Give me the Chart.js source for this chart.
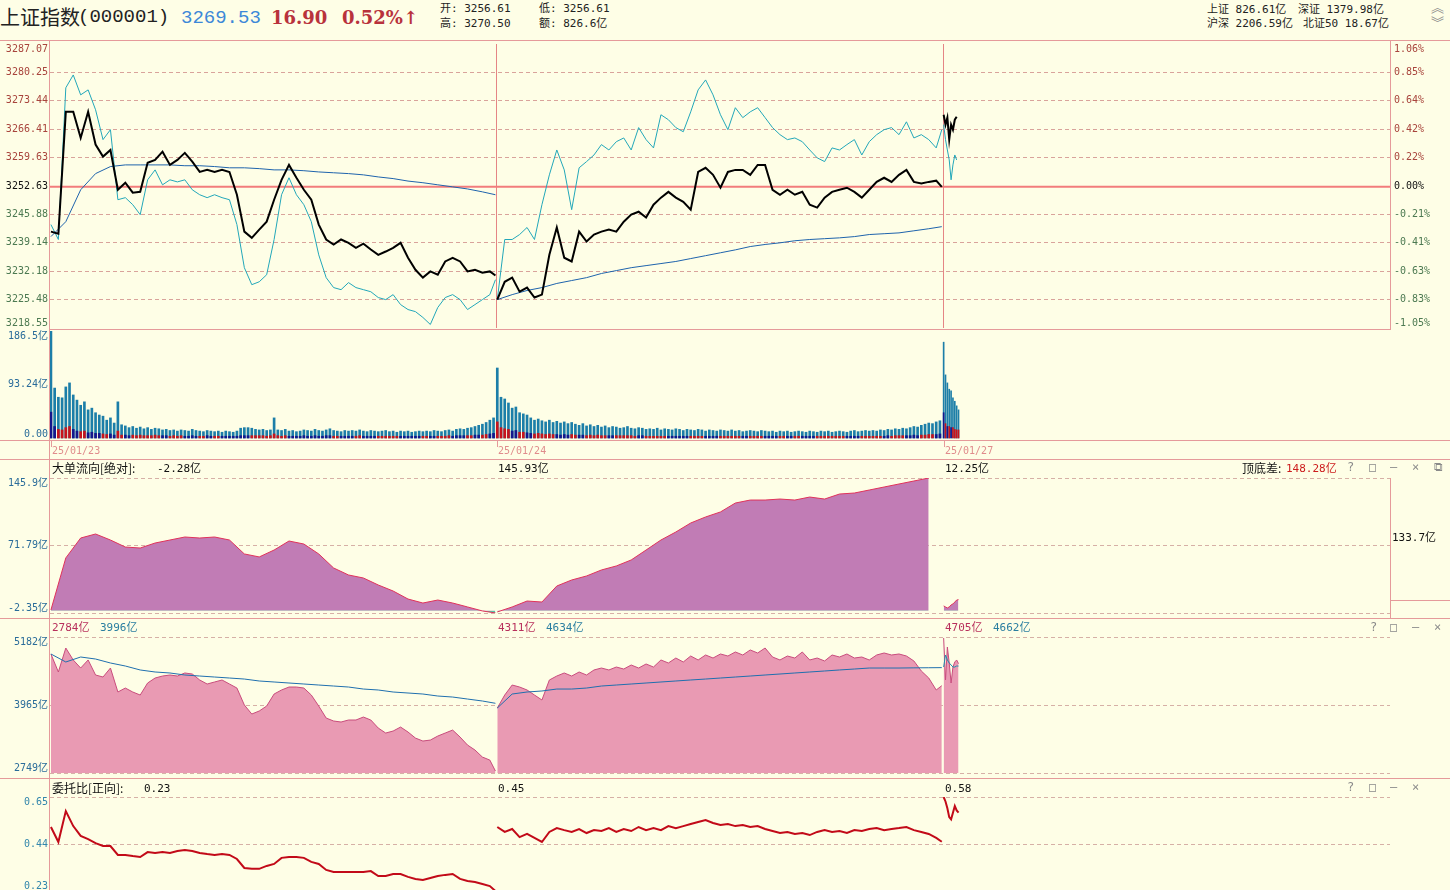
<!DOCTYPE html>
<html>
<head>
<meta charset="utf-8">
<script src="https://cdn.jsdelivr.net/npm/chart.js@4.4.1/dist/chart.umd.min.js"></script>
<style>
  body { margin: 0; background: #fefee6; width: 1450px; height: 890px; overflow: hidden; position: relative;
         font-family: "DejaVu Sans Mono", "Noto Sans CJK SC", monospace; }
  canvas { position: absolute; left: 0; }
  .t { position: absolute; white-space: nowrap; font-size: 11px; line-height: 13px; }
  .hl { position: absolute; height: 1px; background: #e59a9a; }
  .vl { position: absolute; width: 1px; background: #e59a9a; }
</style>
</head>
<body>
<canvas id="c1" width="1450" height="305" style="top:34px"></canvas>
<canvas id="c2" width="1450" height="128" style="top:321px"></canvas>
<canvas id="c3" width="1450" height="155" style="top:468px"></canvas>
<canvas id="c4" width="1450" height="156" style="top:627px"></canvas>
<canvas id="c5" width="1450" height="104" style="top:787px"></canvas>
<script>
// minute grids inside one trading day (240 minutes)
const T4 = [0,4,8,12,16,20,24,28,32,36,40,44,48,52,56,60,64,68,72,76,80,84,88,92,96,100,104,108,112,116,
  120,124,128,132,136,140,144,148,152,156,160,164,168,172,176,180,184,188,192,196,200,204,208,212,216,220,224,228,232,236,239];
const T8 = [0,8,16,24,32,40,48,56,64,72,80,88,96,104,112,120,128,136,144,152,160,168,176,184,192,200,208,216,224,232,239];
const T2 = [0,2,4,6,8,10,12,14,16,18,20,22,24,26,28,30,32,34,36,38,40,42,44,46,48,50,52,54,56,58,
  60,62,64,66,68,70,72,74,76,78,80,82,84,86,88,90,92,94,96,98,100,102,104,106,108,110,112,114,116,118,
  120,122,124,126,128,130,132,134,136,138,140,142,144,146,148,150,152,154,156,158,160,162,164,166,168,170,172,174,176,178,
  180,182,184,186,188,190,192,194,196,198,200,202,204,206,208,210,212,214,216,218,220,222,224,226,228,230,232,234,236,238];
const T1 = [0,1,2,3,4,5,6,7,8];
const dayStart = [0, 240, 480];
const dayLabels = ["25/01/23", "25/01/24", "25/01/27"];

// price panel
const prevClose = 3252.63;
const priceTicks = [3287.07, 3280.25, 3273.44, 3266.41, 3259.63, 3252.63, 3245.88, 3239.14, 3232.18, 3225.48, 3218.55];
const pctLabels = ["1.06%", "0.85%", "0.64%", "0.42%", "0.22%", "0.00%", "-0.21%", "-0.41%", "-0.63%", "-0.83%", "-1.05%"];
const price1 = [3241.8,3241.3,3270.7,3270.7,3264.4,3270.7,3262.8,3259.9,3261.5,3251.9,3253.6,3251.2,3251.4,3258.4,3259.1,
  3261.1,3257.9,3259.1,3260.8,3258.7,3256.2,3256.7,3256.2,3256.7,3256.2,3250.7,3241.8,3240.3,3242.3,3244.2,3249.5,3254.3,
  3257.9,3254.8,3251.9,3249.5,3243.5,3239.9,3238.7,3239.9,3239.1,3237.9,3238.9,3237.5,3236.2,3237.0,3237.9,3239.1,3235.5,
  3232.6,3230.7,3232.2,3231.4,3234.6,3235.5,3234.6,3232.2,3232.6,3231.9,3232.2,3231.2];
const price2 = [3225.4,3229.7,3230.7,3227.3,3228.3,3225.9,3226.6,3236.2,3242.8,3235.5,3234.6,3241.8,3239.4,3241.1,3241.8,
  3242.3,3241.8,3244.2,3245.9,3246.6,3245.2,3248.3,3250.0,3251.4,3250.0,3249.0,3247.1,3256.2,3257.2,3255.5,3252.4,3256.2,
  3256.7,3256.7,3255.5,3257.9,3257.9,3251.9,3250.7,3251.9,3250.7,3251.4,3248.3,3247.6,3250.0,3251.4,3251.9,3252.4,3251.4,
  3250.0,3251.9,3253.8,3254.8,3253.8,3255.5,3256.7,3253.8,3253.4,3253.8,3254.1,3252.6];
const price3 = [3270.0,3267.6,3269.3,3264.0,3267.6,3266.4,3268.8,3269.5];
const lead1 = [3243.5,3239.9,3276.5,3279.6,3274.8,3276.0,3271.2,3264.0,3266.4,3249.5,3250.0,3248.3,3245.9,3254.3,3256.7,
  3253.1,3254.3,3253.8,3254.3,3251.9,3250.7,3250.0,3250.7,3250.0,3249.5,3243.5,3233.1,3229.0,3229.7,3231.4,3239.9,3250.7,
  3254.8,3250.7,3248.3,3244.2,3236.2,3230.7,3228.3,3227.8,3229.5,3228.3,3227.8,3227.3,3225.9,3225.4,3226.6,3224.2,3223.0,
  3222.5,3221.1,3219.4,3223.5,3225.9,3226.6,3225.4,3223.0,3224.2,3225.4,3226.6,3230.2];
const lead2 = [3225.4,3239.9,3239.9,3241.1,3242.8,3239.9,3248.3,3255.5,3261.5,3256.7,3247.1,3257.2,3258.7,3260.3,3262.8,
  3261.5,3263.5,3264.4,3261.5,3266.9,3264.0,3262.0,3270.0,3268.8,3266.9,3265.9,3270.7,3276.0,3278.4,3274.8,3270.0,3266.4,
  3271.7,3269.3,3270.7,3271.7,3269.3,3266.9,3265.2,3264.0,3264.4,3263.5,3261.5,3259.6,3258.7,3262.0,3261.5,3262.8,3264.0,
  3260.3,3263.5,3265.2,3266.4,3266.9,3265.2,3268.3,3264.4,3265.2,3264.0,3262.0,3266.4];
const lead3 = [3267.6,3264.0,3261.5,3259.1,3254.3,3257.9,3260.3,3259.1];
const avg1 = [3240.6,3244.2,3251.9,3255.8,3257.5,3257.9,3257.9,3257.9,3257.9,3257.7,3257.7,3257.5,3257.2,3257.2,3257.0,
  3256.7,3256.7,3256.5,3256.2,3256.0,3255.8,3255.5,3255.0,3254.6,3254.0,3253.6,3253.1,3252.6,3252.1,3251.4,3250.7];
const avg2 = [3225.4,3226.6,3227.6,3228.3,3229.3,3230.0,3230.7,3231.7,3232.4,3233.1,3233.6,3234.1,3234.6,3235.3,3236.0,
  3236.7,3237.4,3238.2,3238.7,3239.1,3239.6,3239.9,3240.1,3240.3,3240.6,3241.1,3241.3,3241.5,3242.0,3242.5,3243.0];

// volume panel (亿), one bar per 2 minutes (day 3: per minute)
const volTicks = [186.5, 93.24, 0];
const volLabels = ["186.5亿", "93.24亿", "0.00"];
const vol1 = [186.5,87,71,70,89,96,75,66,57,63,49,52,44,40,38,31,35,26,63,23,
  21,18,20,17,19,16,18,15,17,16,14,
  15,13,14,12,14,13,12,15,13,12,11,13,12,11,12,10,12,11,10,12,
  17,18,18,17,15,14,15,13,14,35,
  14,13,15,12,13,11,12,14,13,12,15,13,12,14,16,13,12,11,13,12,
  13,12,14,12,11,13,12,11,12,13,11,12,10,12,11,12,10,11,12,11,
  12,11,13,12,11,13,14,12,15,16,15,17,18,20,22,24,27,31,35];
const vol2 = [122,71,68,61,52,54,44,42,40,35,31,33,
  30,28,31,27,29,26,28,25,27,
  24,22,25,21,23,20,22,19,21,18,20,19,17,18,20,17,16,18,17,15,
  16,15,17,14,16,15,14,16,15,13,15,14,13,15,14,12,14,13,12,14,
  13,12,14,12,13,11,12,13,12,11,13,12,11,12,10,12,11,12,10,11,
  12,11,10,12,11,10,12,11,12,10,11,12,11,10,12,13,11,12,13,12,
  13,12,14,13,15,14,16,15,17,16,18,20,19,22,24,26,25,28,30];
const vol3 = [167,110,96,85,82,70,64,56,49];
const volBig1 = [45,20,15,14,18,20,15,12,11,12,9,10,8,8,7,6,7,5,12,5,
  5,4,5,4,5,4,4,4,5,4,4,
  4,3,4,3,4,3,3,4,3,3,3,4,3,3,3,3,3,3,3,3,
  4,4,4,4,4,4,4,3,4,7,
  4,3,4,3,3,3,3,4,3,3,4,3,3,4,4,3,3,3,3,3,
  3,3,4,3,3,3,3,3,3,3,3,3,3,3,3,3,3,3,3,3,
  3,3,3,3,3,3,4,3,4,4,4,4,4,5,5,5,6,7,8];
const volBig2 = [28,18,16,15,12,13,10,10,9,8,7,8,
  7,6,7,6,6,5,6,5,6,
  5,5,5,4,5,4,5,4,4,4,4,4,4,4,4,4,3,4,4,3,
  3,3,3,3,3,3,3,3,3,3,3,3,3,3,3,3,3,3,3,3,
  3,3,3,3,3,3,3,3,3,3,3,3,3,3,3,3,3,3,3,3,
  3,3,3,3,3,3,3,3,3,3,3,3,3,3,3,3,3,3,3,3,
  3,3,3,3,4,3,4,4,4,4,4,5,4,5,5,6,6,6,7];
const volBig3 = [44,25,20,20,18,18,15,14,14];

// 大单流向 (亿)
const flowTicks = [145.9, 71.79, -2.35];
const flowLabels = ["145.9亿", "71.79亿", "-2.35亿"];
const flow1 = [1.0,58.1,80.0,84.4,77.8,70.1,69.0,74.5,77.8,81.1,80.0,81.1,77.8,62.5,59.2,66.8,76.7,73.4,62.5,47.1,
  39.4,36.1,28.4,21.8,13.0,8.6,11.9,8.6,4.3,-0.1,-2.3];
const flow2 = [-1.2,4.3,10.8,9.7,27.3,33.9,38.3,44.9,49.3,55.9,66.8,77.8,86.6,96.5,103.1,108.6,118.4,121.7,121.7,122.8,
  121.7,125.0,122.8,128.3,129.4,132.7,136.0,139.3,142.6,145.9,null];
const flow3 = [5.4,4.3,3.2,4.3,6.5,7.6,9.7,11.9,12.3];
const flowHead = ["-2.28亿", "145.93亿", "12.25亿"];

// 成交额 area (亿) and its average line
const amtTicks = [5182, 3965, 2749];
const amtLabels = ["5182亿", "3965亿", "2749亿"];
const amt1 = [4878,4556,4985,4771,4627,4771,4502,4466,4627,4198,4269,4198,4144,4359,4448,4484,4502,4484,4538,4520,
  4413,4341,4377,4413,4341,4269,3965,3804,3858,3947,4162,4234,4287,4287,4269,4144,3947,3732,3679,3661,
  3697,3697,3750,3697,3553,3464,3500,3571,3482,3374,3321,3338,3410,3464,3517,3392,3249,3160,3034,2980,2784];
const amt2 = [3911,4144,4323,4287,4234,4144,4055,4413,4484,4538,4484,4556,4502,4592,4627,4592,4645,4609,4681,4627,
  4699,4645,4771,4717,4806,4735,4842,4771,4860,4806,4878,4842,4914,4860,4950,4896,4985,4824,4771,4842,
  4806,4914,4771,4806,4753,4860,4824,4878,4806,4824,4771,4860,4896,4860,4878,4842,4753,4574,4448,4234,4311];
const amt3 = [5164,4413,5003,4717,4359,4645,4735,4771,4705];
const amtAvg1 = [4878,4735,4824,4788,4717,4663,4592,4556,4538,4502,4484,4466,4448,4430,4395,4377,4359,4341,4323,4305,
  4287,4251,4234,4198,4180,4162,4126,4108,4072,4037,3996];
const amtAvg2 = [3911,4162,4198,4216,4251,4251,4269,4305,4323,4341,4359,4377,4395,4413,4430,4448,4466,4484,4502,4520,
  4538,4556,4574,4592,4609,4627,4627,4627,4630,4632,4634];
const amtAvg3 = [4645,4860,4771,4717,4681,4645,4645,4663,4662];
const amtHead = [["2784亿", "3996亿"], ["4311亿", "4634亿"], ["4705亿", "4662亿"]];

// 委托比
const ratioTicks = [0.65, 0.44, 0.23];
const ratioLabels = ["0.65", "0.44", "0.23"];
const ratio1 = [0.516,0.449,0.587,0.520,0.476,0.462,0.444,0.431,0.431,0.391,0.391,0.386,0.382,0.404,0.400,0.404,0.400,
  0.409,0.413,0.409,0.400,0.395,0.391,0.395,0.391,0.373,0.333,0.329,0.329,0.342,0.351,0.378,0.382,0.382,0.378,0.360,
  0.351,0.324,0.315,0.315,0.315,0.315,0.315,0.319,0.297,0.297,0.306,0.306,0.293,0.284,0.279,0.288,0.297,0.302,0.306,
  0.284,0.275,0.270,0.261,0.252,0.23];
const ratio2 = [0.516,0.494,0.507,0.471,0.485,0.467,0.449,0.494,0.511,0.502,0.494,0.507,0.489,0.502,0.498,0.511,0.494,
  0.507,0.498,0.516,0.502,0.511,0.502,0.520,0.511,0.520,0.529,0.538,0.547,0.534,0.525,0.529,0.520,0.525,0.516,0.520,
  0.507,0.498,0.489,0.494,0.485,0.489,0.480,0.494,0.502,0.494,0.498,0.489,0.502,0.498,0.507,0.511,0.502,0.507,0.511,
  0.516,0.502,0.494,0.485,0.467,0.45];
const ratio3 = [0.65,0.63,0.60,0.56,0.55,0.58,0.61,0.59,0.58];
const ratioHead = ["0.23", "0.45", "0.58"];

// ---------- helpers ----------
const FONT = '10px "DejaVu Sans Mono", "Noto Sans CJK SC"';
const pts = (times, vals, off) => vals.map((v, i) => ({ x: times[i] + off, y: v }));
const line = (times, vals, off, color, w, extra) => Object.assign({
  type: 'line', data: pts(times, vals, off), borderColor: color, borderWidth: w, pointRadius: 0, fill: false
}, extra || {});

function upAt(times, vals, t) {
  let j = 0;
  while (j < vals.length - 2 && times[j + 1] <= t) j++;
  return vals[j + 1] >= vals[j];
}

// axis labels drawn beside the plot, kept inside the panel like the original terminal does
function sideLabels(items) {
  return {
    id: 'sideLabels',
    afterDraw(chart) {
      const { ctx, chartArea: a } = chart;
      const y = chart.scales.y;
      ctx.save();
      ctx.font = FONT;
      ctx.textBaseline = 'middle';
      items.forEach(it => {
        let py = y.getPixelForValue(it.v);
        py = Math.min(Math.max(py, a.top + 5), a.bottom - 5);
        ctx.fillStyle = it.c;
        ctx.textAlign = it.right ? 'left' : 'right';
        ctx.fillText(it.t, it.right ? a.right + 4 : a.left - 2, py);
      });
      ctx.restore();
    }
  };
}

const daySep = {
  id: 'daySep',
  beforeDatasetsDraw(chart) {
    const { ctx, chartArea: a } = chart;
    const x = chart.scales.x;
    ctx.save();
    ctx.strokeStyle = '#e58585';
    ctx.lineWidth = 1;
    dayStart.slice(1).forEach(d => {
      const px = Math.round(x.getPixelForValue(d)) - 0.5;
      ctx.beginPath(); ctx.moveTo(px, a.top); ctx.lineTo(px, a.bottom); ctx.stroke();
    });
    ctx.restore();
  }
};

function yScale(min, max, ticks, gridColor) {
  return {
    min: min, max: max, display: true,
    ticks: { display: false },
    border: { display: false, dash: [4, 3] },
    grid: { drawTicks: false, lineWidth: 1, color: gridColor },
    afterBuildTicks: s => { s.ticks = ticks.map(v => ({ value: v })); }
  };
}

function opts(pad, y) {
  return {
    responsive: false, animation: false, devicePixelRatio: 1,
    layout: { padding: pad },
    plugins: { legend: { display: false }, tooltip: { enabled: false } },
    elements: { point: { radius: 0 }, line: { tension: 0 } },
    scales: { x: { type: 'linear', min: -0.5, max: 720, display: false, offset: false }, y: y }
  };
}

const D = dayStart;

// ---------- price panel ----------
const priceItems = [];
priceTicks.forEach((v, i) => {
  const c = v > prevClose ? '#a8443c' : (v < prevClose ? '#4d7a52' : '#111');
  priceItems.push({ v: v, t: v.toFixed(2), c: c });
  priceItems.push({ v: v, t: pctLabels[i], c: c, right: true });
});
const c1 = new Chart(document.getElementById('c1'), {
  type: 'line',
  data: { datasets: [
    line(T1, price3, D[2], '#000', 2), line(T4, price2, D[1], '#000', 2), line(T4, price1, D[0], '#000', 2),
    line(T1, lead3, D[2], '#22a7b9', 1), line(T4, lead2, D[1], '#22a7b9', 1), line(T4, lead1, D[0], '#22a7b9', 1),
    line(T8, avg2, D[1], '#1e63ac', 1), line(T8, avg1, D[0], '#1e63ac', 1),
    { type: 'line', data: [{ x: -0.5, y: prevClose }, { x: 720, y: prevClose }], borderColor: '#f27c7c', borderWidth: 2, pointRadius: 0 }
  ] },
  options: opts({ left: 50, right: 60, top: 10, bottom: 11 },
    yScale(priceTicks[priceTicks.length - 1], priceTicks[0], priceTicks,
      ctx => (ctx.index === 0 || ctx.index === priceTicks.length - 1) ? 'rgba(0,0,0,0)' : '#d9a39b')),
  plugins: [sideLabels(priceItems), daySep]
});

// ---------- volume panel ----------
const RED = '#c8141c', NAVY = '#14168c', TEAL = '#1c7ea8';
const bar = (times, vals, off, color, w, order) => ({
  type: 'bar', data: pts(times, vals, off), backgroundColor: color, barThickness: w,
  grouped: false, borderWidth: 0, order: order
});
new Chart(document.getElementById('c2'), {
  type: 'bar',
  data: { datasets: [
    bar(T2, volBig1, D[0], volBig1.map((v, i) => upAt(T4, price1, T2[i]) ? RED : NAVY), 2, 1),
    bar(T2, volBig2, D[1], volBig2.map((v, i) => upAt(T4, price2, T2[i]) ? RED : NAVY), 2, 1),
    bar(T1, volBig3, D[2], volBig3.map((v, i) => upAt(T1, price3, T1[i]) ? RED : NAVY), 1, 1),
    bar(T2, vol1, D[0], TEAL, 2, 2), bar(T2, vol2, D[1], TEAL, 2, 2), bar(T1, vol3, D[2], TEAL, 1, 2)
  ] },
  options: opts({ left: 50, right: 60, top: 10, bottom: 10 }, yScale(-1.8, 186.5, [], 'rgba(0,0,0,0)')),
  plugins: [sideLabels(volTicks.map((v, i) => ({ v: v, t: volLabels[i], c: '#2a6c9a' })))]
});

// ---------- 大单流向 ----------
const flowFill = { target: 'origin', above: '#c17cb5', below: '#52c6a6' };
const c3 = new Chart(document.getElementById('c3'), {
  type: 'line',
  data: { datasets: [
    line(T8, flow1, D[0], '#e0325a', 1, { fill: flowFill }),
    line(T8, flow2, D[1], '#e0325a', 1, { fill: flowFill }),
    line(T1, flow3, D[2], '#e0325a', 1, { fill: flowFill })
  ] },
  options: opts({ left: 50, right: 60, top: 10, bottom: 10 },
    yScale(flowTicks[2], flowTicks[0], flowTicks, '#d6b0a6')),
  plugins: [sideLabels(flowTicks.map((v, i) => ({ v: v, t: flowLabels[i], c: '#2a6c9a' })))]
});

// ---------- 成交额 ----------
const amtFill = { fill: 'start', backgroundColor: '#e99ab3' };
new Chart(document.getElementById('c4'), {
  type: 'line',
  data: { datasets: [
    line(T8, amtAvg1, D[0], '#1f6fae', 1), line(T8, amtAvg2, D[1], '#1f6fae', 1), line(T1, amtAvg3, D[2], '#1f8fae', 1),
    line(T4, amt1, D[0], '#c84c7c', 1, amtFill), line(T4, amt2, D[1], '#c84c7c', 1, amtFill), line(T1, amt3, D[2], '#c84c7c', 1, amtFill)
  ] },
  options: opts({ left: 50, right: 60, top: 10, bottom: 10 },
    yScale(amtTicks[2], amtTicks[0], amtTicks, '#d6b0a6')),
  plugins: [sideLabels(amtTicks.map((v, i) => ({ v: v, t: amtLabels[i], c: '#2a6c9a' })))]
});

// ---------- 委托比 ----------
new Chart(document.getElementById('c5'), {
  type: 'line',
  data: { datasets: [
    line(T4, ratio1, D[0], '#c20a18', 2), line(T4, ratio2, D[1], '#c20a18', 2), line(T1, ratio3, D[2], '#c20a18', 2)
  ] },
  options: opts({ left: 50, right: 60, top: 10, bottom: 0 },
    yScale(ratioTicks[2], ratioTicks[0], ratioTicks,
      ctx => ctx.index === ratioTicks.length - 1 ? 'rgba(0,0,0,0)' : '#d6b0a6')),
  plugins: [sideLabels(ratioTicks.map((v, i) => ({ v: v, t: ratioLabels[i], c: '#3286ac' })))]
});

// ---------- frame and text ----------
function el(cls, css, text) {
  const d = document.createElement('div');
  d.className = cls;
  d.style.cssText = css;
  if (text !== undefined) d.textContent = text;
  document.body.appendChild(d);
  return d;
}
const hl = (x1, x2, y) => el('hl', `left:${x1}px;width:${x2 - x1}px;top:${y}px`);
const vl = (x, y1, y2) => el('vl', `left:${x}px;top:${y1}px;height:${y2 - y1}px`);
const txt = (s, x, y, color, extra) => el('t', `left:${x}px;top:${y}px;color:${color || '#111'};${extra || ''}`, s);

hl(0, 1450, 40); vl(49, 40, 890); vl(1390, 40, 330); hl(49, 1390, 329);
hl(0, 1450, 440); hl(0, 1450, 459); hl(0, 1450, 618); hl(0, 1450, 778);
vl(1390, 478, 618); hl(1390, 1450, 600);

const xs = c1.scales.x;
const dx = dayStart.map(d => Math.round(xs.getPixelForValue(d)));

// header
const big = 'font-size:19px;line-height:22px;';
txt('上证指数', 0, 5, '#222', 'font-size:20px;line-height:24px;font-family:"Noto Sans CJK SC";');
txt('(000001)', 78, 6, '#222', big + 'font-family:"Liberation Mono";');
txt('3269.53', 181, 7, '#3c88d8', big + 'font-family:"Liberation Mono";');
txt('16.90', 271, 7, '#b8323c', 'font-size:18px;line-height:22px;font-family:"DejaVu Serif";font-weight:bold;');
txt('0.52%↑', 342, 7, '#b8323c', 'font-size:18px;line-height:22px;font-family:"DejaVu Serif";font-weight:bold;');
txt('开: 3256.61', 440, 2, '#222'); txt('低: 3256.61', 539, 2, '#222');
txt('高: 3270.50', 440, 17, '#222'); txt('额: 826.6亿', 539, 17, '#222');
txt('上证 826.61亿', 1207, 3, '#222'); txt('深证 1379.98亿', 1298, 3, '#222');
txt('沪深 2206.59亿', 1207, 17, '#222'); txt('北证50 18.67亿', 1303, 17, '#222');
txt('︽', 1431, 1, '#8a8a8a', 'font-size:13px;'); txt('︾', 1431, 16, '#8a8a8a', 'font-size:13px;');

// dates under volume
dayLabels.forEach((s, i) => {
  vl(dx[i], 441, 447);
  txt(s, dx[i] + 1, 444, '#e08c8c', 'font-size:10px;');
});

// panel headers
const icons = (list, y) => list.forEach(p => txt(p[0], p[1], y, '#8a8a8a', 'font-size:12px;'));
txt('大单流向[绝对]:', 52, 461, '#111', 'font-size:12px;font-family:"Noto Sans CJK SC";');
txt(flowHead[0], 157, 462, '#111');
txt(flowHead[1], dx[1] + 1, 462, '#111');
txt(flowHead[2], dx[2] + 1, 462, '#111');
txt('顶底差:', 1242, 461, '#111', 'font-size:12px;font-family:"Noto Sans CJK SC";');
txt('148.28亿', 1286, 462, '#cc1c1c');
icons([['?', 1347], ['□', 1369], ['–', 1390], ['×', 1412], ['⧉', 1434]], 461);
txt('133.7亿', 1392, 531, '#111');

amtHead.forEach((pair, i) => {
  const x0 = i === 0 ? 52 : dx[i] + 1;
  txt(pair[0], x0, 621, '#b8305c');
  txt(pair[1], x0 + 48, 621, '#2a7ea0');
});
icons([['?', 1370], ['□', 1390], ['–', 1412], ['×', 1434]], 621);

txt('委托比[正向]:', 52, 781, '#111', 'font-size:12px;font-family:"Noto Sans CJK SC";');
txt(ratioHead[0], 144, 782, '#111');
txt(ratioHead[1], dx[1] + 1, 782, '#111');
txt(ratioHead[2], dx[2] + 1, 782, '#111');
icons([['?', 1347], ['□', 1369], ['–', 1390], ['×', 1412]], 781);
</script>
</body>
</html>
